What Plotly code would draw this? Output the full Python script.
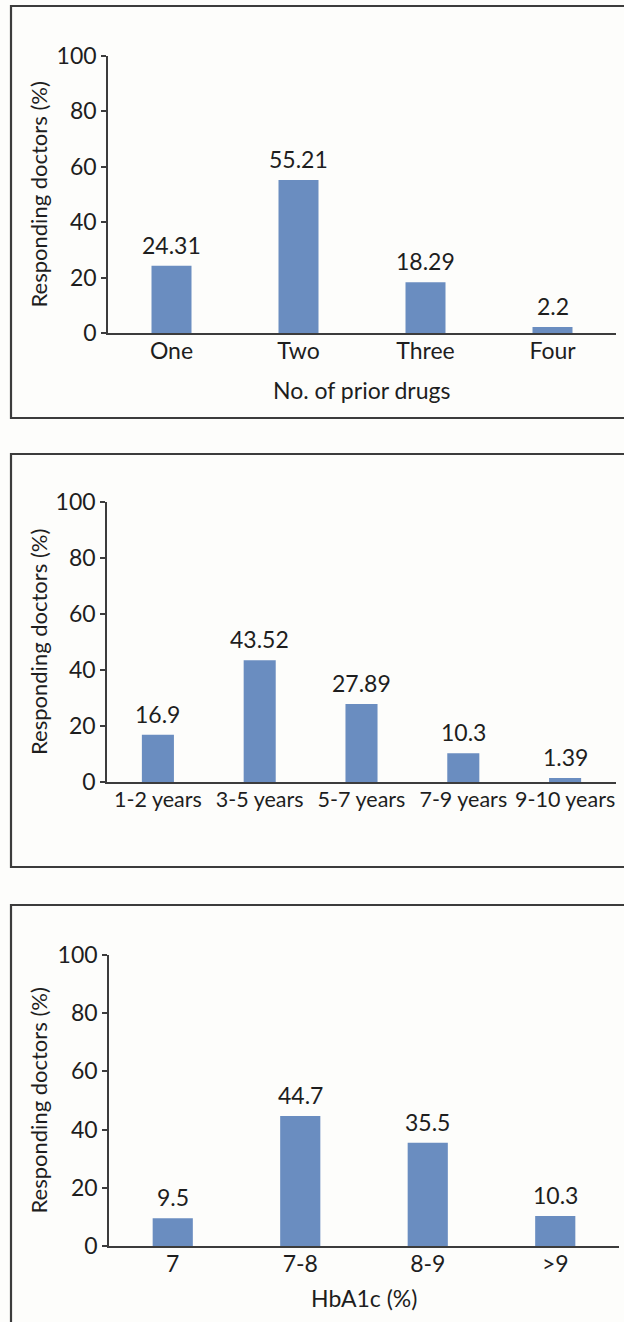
import plotly.graph_objects as go

# Survey results: share of responding doctors per category (%)
drug_categories = ["One", "Two", "Three", "Four"]
drug_values = [24.31, 55.21, 18.29, 2.2]

duration_categories = ["1-2 years", "3-5 years", "5-7 years", "7-9 years", "9-10 years"]
duration_values = [16.9, 43.52, 27.89, 10.3, 1.39]

hba1c_categories = ["7", "7-8", "8-9", ">9"]
hba1c_values = [9.5, 44.7, 35.5, 10.3]

y_ticks = [0, 20, 40, 60, 80, 100]

W, H = 624, 1322
BAR_COLOR = "#6a8dc0"
TEXT_COLOR = "#1e1e1e"
LINE_COLOR = "#3c3c3c"
BG = "#fdfdfb"
FONT = "Lato"
FS = 23
FS_YTITLE = 22


def px_x(p):
    return p / W


def px_y(p):
    return 1 - p / H


# panel layout in pixels: axis left/right, y of value 0 and value 100, frame top/bottom
panels = [
    dict(cats=drug_categories, vals=drug_values, x0=108, x1=616, y0=333, y100=56,
         frame=(11, 6, 418), xtitle="No. of prior drugs", xtitle_y=390, tick_fs=FS),
    dict(cats=duration_categories, vals=duration_values, x0=107, x1=616, y0=782, y100=502,
         frame=(11, 454, 867), xtitle=None, xtitle_y=None, tick_fs=21.5),
    dict(cats=hba1c_categories, vals=hba1c_values, x0=109, x1=619, y0=1246, y100=955,
         frame=(11, 905, 1340), xtitle="HbA1c (%)", xtitle_y=1298, tick_fs=FS),
]

fig = go.Figure()
shapes = []
annotations = []

for i, p in enumerate(panels, start=1):
    xa = "x" if i == 1 else f"x{i}"
    ya = "y" if i == 1 else f"y{i}"
    fig.add_trace(go.Bar(
        x=p["cats"], y=p["vals"], xaxis=xa, yaxis=ya,
        marker=dict(color=BAR_COLOR, line=dict(width=0)),
        showlegend=False,
    ))
    # value labels above each bar (category positions by index)
    for j, v in enumerate(p["vals"]):
        annotations.append(dict(
            x=j, y=v, xref=xa, yref=ya, text=f"{v:g}", showarrow=False,
            xanchor="center", yanchor="bottom", yshift=5,
            font=dict(family=FONT, size=FS, color=TEXT_COLOR),
        ))
    key = "" if i == 1 else str(i)
    n = len(p["cats"])
    fig.layout["xaxis" + key] = dict(
        type="category", range=[-0.5, n - 0.5],
        domain=[px_x(p["x0"]), px_x(p["x1"])], anchor=ya,
        showline=True, linecolor=LINE_COLOR, linewidth=1.5,
        ticks="", showgrid=False, zeroline=False, ticklabelstandoff=-3,
        tickangle=0, automargin=False,
        tickfont=dict(family=FONT, size=p["tick_fs"], color=TEXT_COLOR),
    )
    fig.layout["yaxis" + key] = dict(
        domain=[px_y(p["y0"]), px_y(p["y100"])], anchor=xa,
        range=[0, 100], tickvals=y_ticks, automargin=False,
        showline=True, linecolor=LINE_COLOR, linewidth=1.5,
        ticks="outside", ticklen=5, tickcolor=LINE_COLOR, tickwidth=1.5,
        showgrid=False, zeroline=False,
        tickfont=dict(family=FONT, size=FS, color=TEXT_COLOR),
    )
    # frame around the panel (left, top and bottom edges; right side runs off the page)
    fx, ftop, fbot = p["frame"]
    shapes.append(dict(type="rect", xref="paper", yref="paper",
                       x0=px_x(fx), x1=px_x(700), y0=px_y(fbot), y1=px_y(ftop),
                       line=dict(color=LINE_COLOR, width=2.2), fillcolor="rgba(0,0,0,0)"))
    # y-axis title
    annotations.append(dict(
        text="Responding doctors (%)", textangle=-90, xref="paper", yref="paper",
        x=px_x(38), y=px_y((p["y0"] + p["y100"]) / 2), xanchor="center", yanchor="middle",
        showarrow=False, font=dict(family=FONT, size=FS_YTITLE, color=TEXT_COLOR),
    ))
    if p["xtitle"]:
        annotations.append(dict(
            text=p["xtitle"], xref="paper", yref="paper",
            x=px_x((p["x0"] + p["x1"]) / 2), y=px_y(p["xtitle_y"]),
            xanchor="center", yanchor="middle", showarrow=False,
            font=dict(family=FONT, size=FS, color=TEXT_COLOR),
        ))

fig.update_layout(
    width=W, height=H, margin=dict(l=0, r=0, t=0, b=0),
    paper_bgcolor=BG, plot_bgcolor=BG,
    bargap=0.685, shapes=shapes, annotations=annotations,
    font=dict(family=FONT, size=FS, color=TEXT_COLOR),
)

fig.write_html("out.html")
